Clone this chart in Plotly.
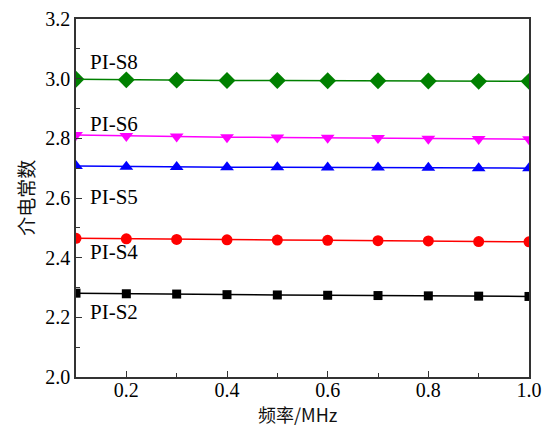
import plotly.graph_objects as go

freq = [0.1, 0.2, 0.3, 0.4, 0.5, 0.6, 0.7, 0.8, 0.9, 1.0]
s8 = [2.998, 2.996, 2.995, 2.994, 2.994, 2.993, 2.993, 2.992, 2.991, 2.991]
s6 = [2.811, 2.808, 2.806, 2.804, 2.803, 2.802, 2.801, 2.799, 2.798, 2.797]
s5 = [2.707, 2.705, 2.704, 2.703, 2.703, 2.702, 2.702, 2.701, 2.700, 2.700]
s4 = [2.465, 2.463, 2.461, 2.460, 2.459, 2.458, 2.457, 2.456, 2.454, 2.453]
s2 = [2.281, 2.279, 2.278, 2.276, 2.275, 2.274, 2.273, 2.272, 2.271, 2.270]

labels = ["PI-S8", "PI-S6", "PI-S5", "PI-S4", "PI-S2"]
label_y = [3.056, 2.848, 2.603, 2.418, 2.217]
x_title = "频率/MHz"
y_title = "介电常数"

series = [
    (s8, "#008000", "diamond", 13),
    (s6, "#ff00ff", "triangle-down", 12),
    (s5, "#0000ff", "triangle-up", 12),
    (s4, "#ff0000", "circle", 11),
    (s2, "#000000", "square", 9),
]

serif = "Liberation Serif"
cjk = "Noto Sans CJK SC"
fig = go.Figure()
for (ys, col, sym, sz), name in zip(series, labels):
    fig.add_trace(go.Scatter(
        x=freq, y=ys, mode="lines+markers", name=name,
        line=dict(color=col, width=1.5),
        marker=dict(symbol=sym, size=sz, color=col),
    ))

for name, yv in zip(labels, label_y):
    fig.add_annotation(x=0.124, y=yv, text=name, showarrow=False,
                       xanchor="left", yanchor="middle",
                       font=dict(family=serif, size=21, color="black"))

# axis titles
fig.add_annotation(xref="paper", yref="paper", x=0.49, y=-0.103,
                   text=x_title, showarrow=False, xanchor="center", yanchor="middle",
                   font=dict(family=cjk, size=18, color="#111"))
fig.add_annotation(xref="paper", yref="paper", x=-0.113, y=0.5,
                   text=y_title, showarrow=False, xanchor="center", yanchor="middle",
                   textangle=-90,
                   font=dict(family=cjk, size=19, color="#111"))

axis_common = dict(
    showgrid=False, zeroline=False, showline=True, linecolor="#333333",
    linewidth=1.5, mirror=True, ticks="inside", ticklen=6, tickwidth=1,
    tickcolor="#333333", automargin=False,
    tickfont=dict(family=serif, size=20, color="black"),
)

fig.update_xaxes(range=[0.1, 1.0], tick0=0, dtick=0.2, tickformat=".1f",
                 minor=dict(dtick=0.1, ticks="inside", ticklen=4, tickcolor="#333333"),
                 ticklabelstandoff=-6,
                 **axis_common)
fig.update_yaxes(range=[2.0, 3.2], tick0=2.0, dtick=0.2, tickformat=".1f",
                 minor=dict(dtick=0.1, ticks="inside", ticklen=4, tickcolor="#333333"),
                 **axis_common)

fig.update_layout(
    width=547, height=427, showlegend=False,
    margin=dict(l=76, r=18, t=19, b=50),
    plot_bgcolor="white", paper_bgcolor="white",
)

fig.write_html("out.html")
